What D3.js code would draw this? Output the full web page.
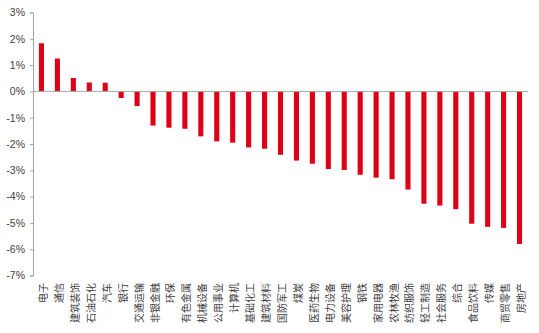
<!DOCTYPE html>
<html><head><meta charset="utf-8">
<script src="https://cdn.jsdelivr.net/npm/d3@7"></script>
<style>
html,body{margin:0;padding:0;background:#fff;}
svg{display:block;}
</style></head>
<body>
<script>
const categories = ["电子","通信","建筑装饰","石油石化","汽车","银行","交通运输","非银金融","环保","有色金属","机械设备","公用事业","计算机","基础化工","建筑材料","国防军工","煤炭","医药生物","电力设备","美容护理","钢铁","家用电器","农林牧渔","纺织服饰","轻工制造","社会服务","综合","食品饮料","传媒","商贸零售","房地产"];
const values = [1.83,1.25,0.51,0.34,0.33,-0.25,-0.56,-1.30,-1.38,-1.42,-1.71,-1.90,-1.95,-2.13,-2.18,-2.41,-2.63,-2.75,-2.95,-2.99,-3.17,-3.28,-3.34,-3.73,-4.27,-4.34,-4.48,-5.03,-5.15,-5.19,-5.80];
const yTicks = [3,2,1,0,-1,-2,-3,-4,-5,-6,-7];

const W = 539, H = 333;
const svg = d3.select("body").append("svg").attr("width",W).attr("height",H);
const x = d3.scaleBand().domain(categories).range([33.5,527.5]).paddingInner(0.68).paddingOuter(0.34);
const y = d3.scaleLinear().domain([-7,3]).range([275.5,12.5]);
const font = "'Noto Sans CJK SC', 'Microsoft YaHei', sans-serif";

svg.selectAll("rect.bar").data(values).join("rect")
  .attr("class","bar")
  .attr("x",(d,i)=>x(categories[i]))
  .attr("width",x.bandwidth())
  .attr("y",d=>y(Math.max(0,d)))
  .attr("height",d=>Math.abs(y(d)-y(0)))
  .attr("fill","#DE0016");

// zero baseline
svg.append("line").attr("x1",33).attr("x2",528).attr("y1",y(0)).attr("y2",y(0))
  .attr("stroke","#A6A6A6").attr("stroke-width",1);

const yAxis = d3.axisLeft(y).tickValues(yTicks).tickSize(3).tickPadding(5).tickFormat(d=>d+"%");
const gy = svg.append("g").attr("transform","translate(33,0)").call(yAxis);
gy.select(".domain").attr("stroke","#A6A6A6");
gy.selectAll(".tick line").attr("stroke","#A6A6A6");
gy.selectAll(".tick text").attr("fill","#404040").style("font-family","Arial, 'Liberation Sans', sans-serif").style("font-size","10.5px");

svg.selectAll("text.xl").data(categories).join("text")
  .attr("class","xl")
  .attr("transform",d=>`translate(${x(d)+x.bandwidth()/2+1},283) rotate(-90)`)
  .attr("text-anchor","end")
  .attr("dominant-baseline","central")
  .style("font-family",font)
  .style("font-size","10px")
  .attr("fill","#404040")
  .text(d=>d);
</script>
</body></html>
